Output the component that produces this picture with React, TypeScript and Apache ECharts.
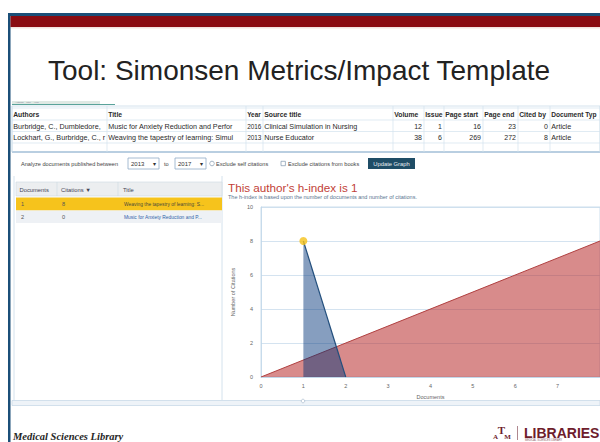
import React, { useEffect, useRef } from "react";
import * as echarts from "echarts";

// ---- data ----
const slideTitle = "Tool: Simonsen Metrics/Impact Template";
const chartTitle = "This author's h-index is 1";
const chartSubtitle = "The h-index is based upon the number of documents and number of citations.";
const docNumbers = [1, 2];
const docCitations = [8, 0];
const hReferenceLine = [[0, 0], [8, 8]];
const hIndexPoint = [1, 8];
const xAxisName = "Documents";
const yAxisName = "Number of Citations";

// spreadsheet cells, as visible (clipped) in the screenshot
const sheetHeaders = ["Authors", "Title", "Year", "Source title", "Volume", "Issue", "Page start", "Page end", "Cited by", "Document Typ"];
const sheetRows = [
  ["Burbridge, C., Dumbledore,", "Music for Anxiety Reduction and Perfor", "2016", "Clinical Simulation in Nursing", "12", "1", "16", "23", "0", "Article"],
  ["Lockhart, G., Burbridge, C., r", "Weaving the tapestry of learning: Simul", "2013", "Nurse Educator", "38", "6", "269", "272", "8", "Article"],
];
const docTableHeaders = ["Documents", "Citations \u25BC", "Title"];
const docTableRows = [
  ["1", "8", "Weaving the tapestry of learning: S..."],
  ["2", "0", "Music for Anxiety Reduction and P..."],
];
const yearFrom = "2013";
const yearTo = "2017";
const footerLeft = "Medical Sciences Library";
const footerLogo = "LIBRARIES";

const FONT = "Liberation Sans, Arial, sans-serif";

function txt(x: number, y: number, text: string, o: any = {}) {
  return {
    type: "text",
    x,
    y,
    silent: true,
    z: o.z ?? 10,
    style: {
      text,
      fill: o.fill ?? "#333",
      fontSize: o.size ?? 7,
      fontFamily: o.family ?? FONT,
      fontWeight: o.weight ?? "normal",
      fontStyle: o.style ?? "normal",
      align: o.align ?? "left",
      verticalAlign: o.va ?? "middle",
    },
  };
}
function rect(x: number, y: number, w: number, h: number, fill: string, stroke?: string, lw = 1, z = 5) {
  return {
    type: "rect",
    silent: true,
    z,
    shape: { x, y, width: w, height: h },
    style: { fill, stroke: stroke ?? null, lineWidth: lw },
  };
}
function ln(x1: number, y1: number, x2: number, y2: number, color: string, lw = 1, z = 6) {
  return {
    type: "line",
    silent: true,
    z,
    shape: { x1, y1, x2, y2 },
    style: { stroke: color, lineWidth: lw },
  };
}

function buildGraphic() {
  const g: any[] = [];
  // slide frame
  g.push(rect(8, 13, 592, 3, "#1b4f78", undefined, 0, 20));
  g.push(rect(8, 13, 2.5, 429, "#1b4f78", undefined, 0, 20));
  g.push(rect(10.5, 16, 590, 11, "#8a0c12", undefined, 0, 20));
  g.push(rect(10.5, 27, 590, 1.5, "#f3e3e0", undefined, 0, 19));
  // title
  g.push(txt(48, 70, slideTitle, { size: 28, fill: "#222" }));

  // spreadsheet
  const colX = [12, 107, 246, 263, 393, 424, 444, 483, 518, 550, 600];
  const rowY = [108, 120, 131.5, 143, 152];
  g.push(rect(12, 101, 88, 3, "#dfe9e4", undefined, 0, 6));
  g.push(ln(12, 104.5, 115, 104.5, "#5aa39a", 1.2));
  g.push(txt(15, 102.5, "Authors    Title    Year", { size: 2.5, fill: "#889" }));
  g.push(rect(12, 106, 588, 46, "#ffffff", "#c9dbe9", 0.8, 5));
  rowY.forEach((y, i) => g.push(ln(12, y, 600, y, i === rowY.length - 1 ? "#a9c3da" : "#d3e2ee", i === rowY.length - 1 ? 1.4 : 0.7)));
  colX.forEach((x) => g.push(ln(x, 106, x, 152, "#d3e2ee", 0.7)));
  const numCols = [4, 5, 6, 7, 8];
  sheetHeaders.forEach((h, i) => {
    g.push(txt(colX[i] + 1.2, 114, h, { size: i === 2 ? 6.4 : i === 9 ? 6.6 : 6.8, weight: "bold", fill: "#2b2b2b" }));
  });
  sheetRows.forEach((row, r) => {
    const y = 126 + r * 11.3;
    row.forEach((v, i) => {
      if (numCols.includes(i)) {
        g.push(txt(colX[i + 1] - 2, y, v, { size: 7, align: "right", fill: "#2a2a2a" }));
      } else {
        g.push(txt(colX[i] + 1.2, y, v, { size: i === 2 ? 6.4 : 7.2, fill: "#2a2a2a" }));
      }
    });
  });

  // controls row
  g.push(txt(21, 163.5, "Analyze documents published between", { size: 5.6, fill: "#444" }));
  g.push(rect(128, 158, 31, 11, "#fff", "#8fabc6", 0.8, 6));
  g.push(txt(131, 163.5, yearFrom, { size: 6, fill: "#333" }));
  g.push(txt(153, 163.5, "\u25BE", { size: 6, fill: "#333" }));
  g.push(txt(164, 163.5, "to", { size: 5.6, fill: "#444" }));
  g.push(rect(175, 158, 31, 11, "#fff", "#8fabc6", 0.8, 6));
  g.push(txt(178, 163.5, yearTo, { size: 6, fill: "#333" }));
  g.push(txt(200, 163.5, "\u25BE", { size: 6, fill: "#333" }));
  g.push({ type: "circle", silent: true, z: 7, shape: { cx: 212, cy: 163.5, r: 2.3 }, style: { fill: "#fff", stroke: "#7f97ad", lineWidth: 0.7 } });
  g.push(txt(216, 163.5, "Exclude self citations", { size: 5.6, fill: "#444" }));
  g.push(rect(281, 161.3, 4.4, 4.4, "#fff", "#7f97ad", 0.7, 7));
  g.push(txt(288, 163.5, "Exclude citations from books", { size: 5.6, fill: "#444" }));
  g.push(rect(368, 158, 47, 11, "#1f4d66", undefined, 0, 6));
  g.push(txt(391.5, 163.5, "Update Graph", { size: 5.8, fill: "#e8eef3", align: "center" }));

  // left documents table
  g.push(ln(14, 176, 14, 400, "#c9dbe9", 0.8));
  g.push(ln(222, 176, 222, 400, "#c9dbe9", 0.8));
  g.push(rect(16, 182, 206, 14, "#eceef0", "#cfd9e2", 0.6, 6));
  g.push(ln(57, 182, 57, 196, "#cfd9e2", 0.6, 7));
  g.push(ln(118, 182, 118, 196, "#cfd9e2", 0.6, 7));
  const dtx = [19.5, 61, 123];
  docTableHeaders.forEach((h, i) => g.push(txt(dtx[i], 189.5, h, { size: 5.8, fill: "#445" })));
  g.push(rect(16, 197.5, 206, 13, "#f6c31c", undefined, 0, 6));
  g.push(rect(16, 210.5, 206, 12.5, "#eef1f5", undefined, 0, 6));
  docTableRows.forEach((row, r) => {
    const y = 204 + r * 13;
    g.push(txt(21, y, row[0], { size: 5.6, fill: "#555" }));
    g.push(txt(62, y, row[1], { size: 5.6, fill: "#555" }));
    g.push(txt(124, y, row[2], { size: 4.9, fill: r === 0 ? "#4a4a3a" : "#2f62a8" }));
  });

  // chart texts
  g.push(txt(228, 187, chartTitle, { size: 11.7, fill: "#c23f38" }));
  g.push(txt(228, 197, chartSubtitle, { size: 5.5, fill: "#5a7590" }));

  // bottom scroll band
  g.push(rect(12, 400.5, 588, 5, "#eef3f8", "#c3d5e5", 0.7, 6));
  g.push({ type: "circle", silent: true, z: 7, shape: { cx: 303, cy: 401, r: 1.8 }, style: { fill: "#fff", stroke: "#9bb0c4", lineWidth: 0.6 } });

  // footer
  g.push(txt(13, 441.5, footerLeft, { size: 10.5, fill: "#262626", weight: "bold", style: "italic", family: "Liberation Serif, Times New Roman, serif", va: "bottom" }));
  const maroon = "#6e1d2c";
  g.push(txt(501.5, 429.5, "T", { size: 11, fill: maroon, weight: "bold", align: "center", family: "Liberation Serif, serif" }));
  g.push(txt(495.5, 437, "A", { size: 7, fill: maroon, weight: "bold", align: "center", family: "Liberation Serif, serif" }));
  g.push(txt(507.5, 437, "M", { size: 7, fill: maroon, weight: "bold", align: "center", family: "Liberation Serif, serif" }));
  g.push(ln(517.5, 426, 517.5, 440, "#9a6a72", 0.8));
  g.push(txt(524, 432.5, footerLogo, { size: 14, fill: maroon, weight: "bold" }));
  g.push(txt(525, 440.5, "MEDICAL SCIENCES LIBRARY", { size: 2.6, fill: "#8a5a62" }));
  return g;
}

export default function App() {
  const ref = useRef<HTMLDivElement>(null);
  useEffect(() => {
    if (!ref.current) return;
    const chart = echarts.init(ref.current, undefined, { renderer: "svg" });
    const citationsData = docNumbers.map((d, i) => [d, docCitations[i]]);
    chart.setOption({
      animation: false,
      backgroundColor: "#ffffff",
      textStyle: { fontFamily: FONT },
      grid: {
        left: 261,
        top: 207,
        width: 345,
        height: 170,
        show: true,
        borderColor: "#bfd5e8",
        borderWidth: 0.8,
        backgroundColor: "transparent",
      },
      xAxis: {
        type: "value",
        min: 0,
        max: 8,
        interval: 1,
        name: xAxisName,
        nameLocation: "middle",
        nameGap: 17,
        nameTextStyle: { fontSize: 5.5, color: "#666" },
        axisLine: { show: true, lineStyle: { color: "#bfd5e8", width: 0.8 } },
        axisTick: { show: false },
        splitLine: { show: false },
        axisLabel: { fontSize: 5.5, color: "#666", margin: 6, showMaxLabel: false },
      },
      yAxis: {
        type: "value",
        min: 0,
        max: 10,
        interval: 2,
        name: yAxisName,
        nameLocation: "middle",
        nameGap: 17,
        nameTextStyle: { fontSize: 5.5, color: "#666" },
        axisLine: { show: true, lineStyle: { color: "#bfd5e8", width: 0.8 } },
        axisTick: { show: false },
        splitLine: { show: true, lineStyle: { color: "#c9dcec", width: 0.8 } },
        axisLabel: { fontSize: 5.5, color: "#666", margin: 8 },
      },
      series: [
        {
          type: "line",
          data: hReferenceLine,
          showSymbol: false,
          lineStyle: { color: "#b04040", width: 1 },
          areaStyle: { color: "rgba(180,35,35,0.75)", origin: "start" },
          z: 2,
        },
        {
          type: "line",
          data: citationsData,
          showSymbol: false,
          lineStyle: { color: "#234f7d", width: 1.2 },
          areaStyle: { color: "rgba(0,50,120,0.68)", origin: "start" },
          z: 3,
        },
        {
          type: "scatter",
          data: [hIndexPoint],
          symbolSize: 8,
          itemStyle: { color: "#f5c21a" },
          z: 4,
        },
      ],
      graphic: { elements: buildGraphic() },
    });
    return () => chart.dispose();
  }, []);
  return <div ref={ref} style={{ position: "absolute", left: 0, top: 0, width: 600, height: 442 }} />;
}
